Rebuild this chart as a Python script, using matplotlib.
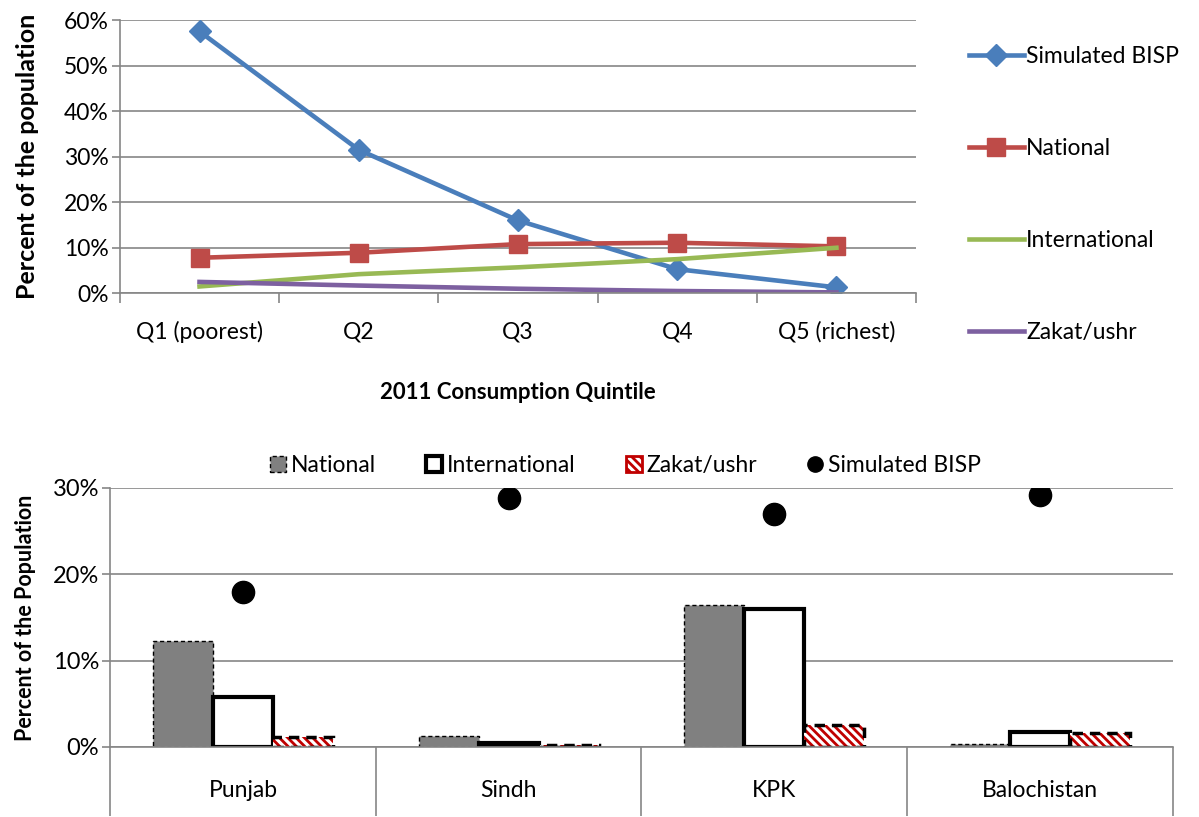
import matplotlib.pyplot as plt
import numpy as np
from matplotlib.patches import Patch
from matplotlib.lines import Line2D

plt.rcParams['font.family'] = ['Lato', 'DejaVu Sans']
plt.rcParams['hatch.linewidth'] = 2.0

# top chart: share of population receiving transfers, by quintile
quintiles = ['Q1 (poorest)', 'Q2', 'Q3', 'Q4', 'Q5 (richest)']
bisp_q = [57.5, 31.5, 16.0, 5.3, 1.3]
national_q = [7.8, 8.9, 10.8, 11.1, 10.3]
intl_q = [1.5, 4.2, 5.7, 7.5, 10.0]
zakat_q = [2.5, 1.7, 1.0, 0.5, 0.2]

# bottom chart: by province
provinces = ['Punjab', 'Sindh', 'KPK', 'Balochistan']
national_p = [12.3, 1.3, 16.4, 0.3]
intl_p = [5.8, 0.5, 16.0, 1.7]
zakat_p = [1.2, 0.2, 2.5, 1.6]
bisp_p = [17.9, 28.8, 27.0, 29.2]

blue = '#4A7EBB'
red = '#BE4B48'
green = '#98B954'
purple = '#7D60A0'
grid = '#868686'

fig = plt.figure(figsize=(11.99, 8.17), dpi=100)

# ---------- top ----------
ax = fig.add_axes([0.100, 0.641, 0.664, 0.3345])
x = np.arange(len(quintiles)) + 0.5
ax.plot(x, bisp_q, color=blue, lw=3.3, marker='D', ms=11, label='Simulated BISP')
ax.plot(x, national_q, color=red, lw=3.3, marker='s', ms=13, label='National')
ax.plot(x, intl_q, color=green, lw=3.3, label='International')
ax.plot(x, zakat_q, color=purple, lw=3.3, label='Zakat/ushr')
ax.set_xlim(0, len(quintiles))
ax.set_ylim(0, 60)
ax.set_yticks(np.arange(0, 61, 10))
ax.set_yticklabels([f'{v}%' for v in range(0, 61, 10)], fontsize=16.5)
ax.set_xticks(np.arange(len(quintiles) + 1))
ax.set_xticklabels([])
ax.set_xticks(x, minor=True)
ax.set_xticklabels(quintiles, minor=True, fontsize=16.5)
ax.tick_params(axis='x', which='major', length=7, color=grid, width=1.2)
ax.tick_params(axis='x', which='minor', length=0, pad=20)
ax.tick_params(axis='y', length=6, color=grid, width=1.2, pad=2)
ax.grid(axis='y', color=grid, lw=1.2)
ax.set_axisbelow(True)
for s in ['top', 'right']:
    ax.spines[s].set_visible(False)
for s in ['left', 'bottom']:
    ax.spines[s].set_color(grid)
    ax.spines[s].set_linewidth(1.2)
ax.set_ylabel('Percent of the population', fontsize=18, fontweight='bold', labelpad=18)
ax.set_xlabel('2011 Consumption Quintile', fontsize=16, fontweight='bold', labelpad=28)
ax.legend(loc='upper left', bbox_to_anchor=(0.808, 0.944), bbox_transform=fig.transFigure,
          frameon=False, fontsize=16.5, labelspacing=3.1, handlelength=2.4,
          handletextpad=0.1, borderpad=0, borderaxespad=0)

# ---------- bottom ----------
bx = fig.add_axes([0.092, 0.0857, 0.886, 0.317])
xp = np.arange(len(provinces)) + 0.5
w = 0.226
bx.bar(xp - w, national_p, w, color='#808080', edgecolor='black', lw=1, ls=(0, (3, 2)))
bx.bar(xp, intl_p, w, color='white', edgecolor='black', lw=3)
bx.bar(xp + w, zakat_p, w, color='white', edgecolor='#C00000', lw=0, hatch='\\\\\\\\')
bx.bar(xp + w, zakat_p, w, fill=False, edgecolor='black', lw=2.5, ls=(0, (3, 2)))
bx.plot(xp, bisp_p, 'o', color='black', ms=16, ls='none')
bx.set_xlim(0, len(provinces))
bx.set_ylim(0, 30)
bx.set_yticks([0, 10, 20, 30])
bx.set_yticklabels(['0%', '10%', '20%', '30%'], fontsize=17)
bx.set_xticks(np.arange(len(provinces) + 1))
bx.set_xticklabels([])
bx.set_xticks(xp, minor=True)
bx.set_xticklabels(provinces, minor=True, fontsize=16.5)
bx.tick_params(axis='x', which='major', length=50, color=grid, width=1.2)
bx.tick_params(axis='x', which='minor', length=0, pad=24)
bx.tick_params(axis='y', length=6, color=grid, width=1.2, pad=2)
bx.grid(axis='y', color=grid, lw=1.2)
bx.set_axisbelow(True)
for s in ['top', 'right']:
    bx.spines[s].set_visible(False)
for s in ['left', 'bottom']:
    bx.spines[s].set_color(grid)
    bx.spines[s].set_linewidth(1.2)
bx.set_ylabel('Percent of the Population', fontsize=15.5, fontweight='bold', labelpad=12)

handles = [
    Patch(facecolor='#808080', edgecolor='black', lw=1, ls=(0, (3, 2))),
    Patch(facecolor='white', edgecolor='black', lw=3),
    Patch(facecolor='white', edgecolor='#C00000', hatch='\\\\\\\\', lw=2),
    Line2D([], [], marker='o', color='black', ls='none', ms=11),
]
bx.legend(handles, ['National', 'International', 'Zakat/ushr', 'Simulated BISP'],
          loc='lower center', bbox_to_anchor=(0.485, 1.045), ncol=4, frameon=False,
          fontsize=16.5, handlelength=0.7, handleheight=0.7, handletextpad=0.2,
          columnspacing=2.2, borderpad=0, borderaxespad=0)

fig.savefig('out.png', dpi=100)
